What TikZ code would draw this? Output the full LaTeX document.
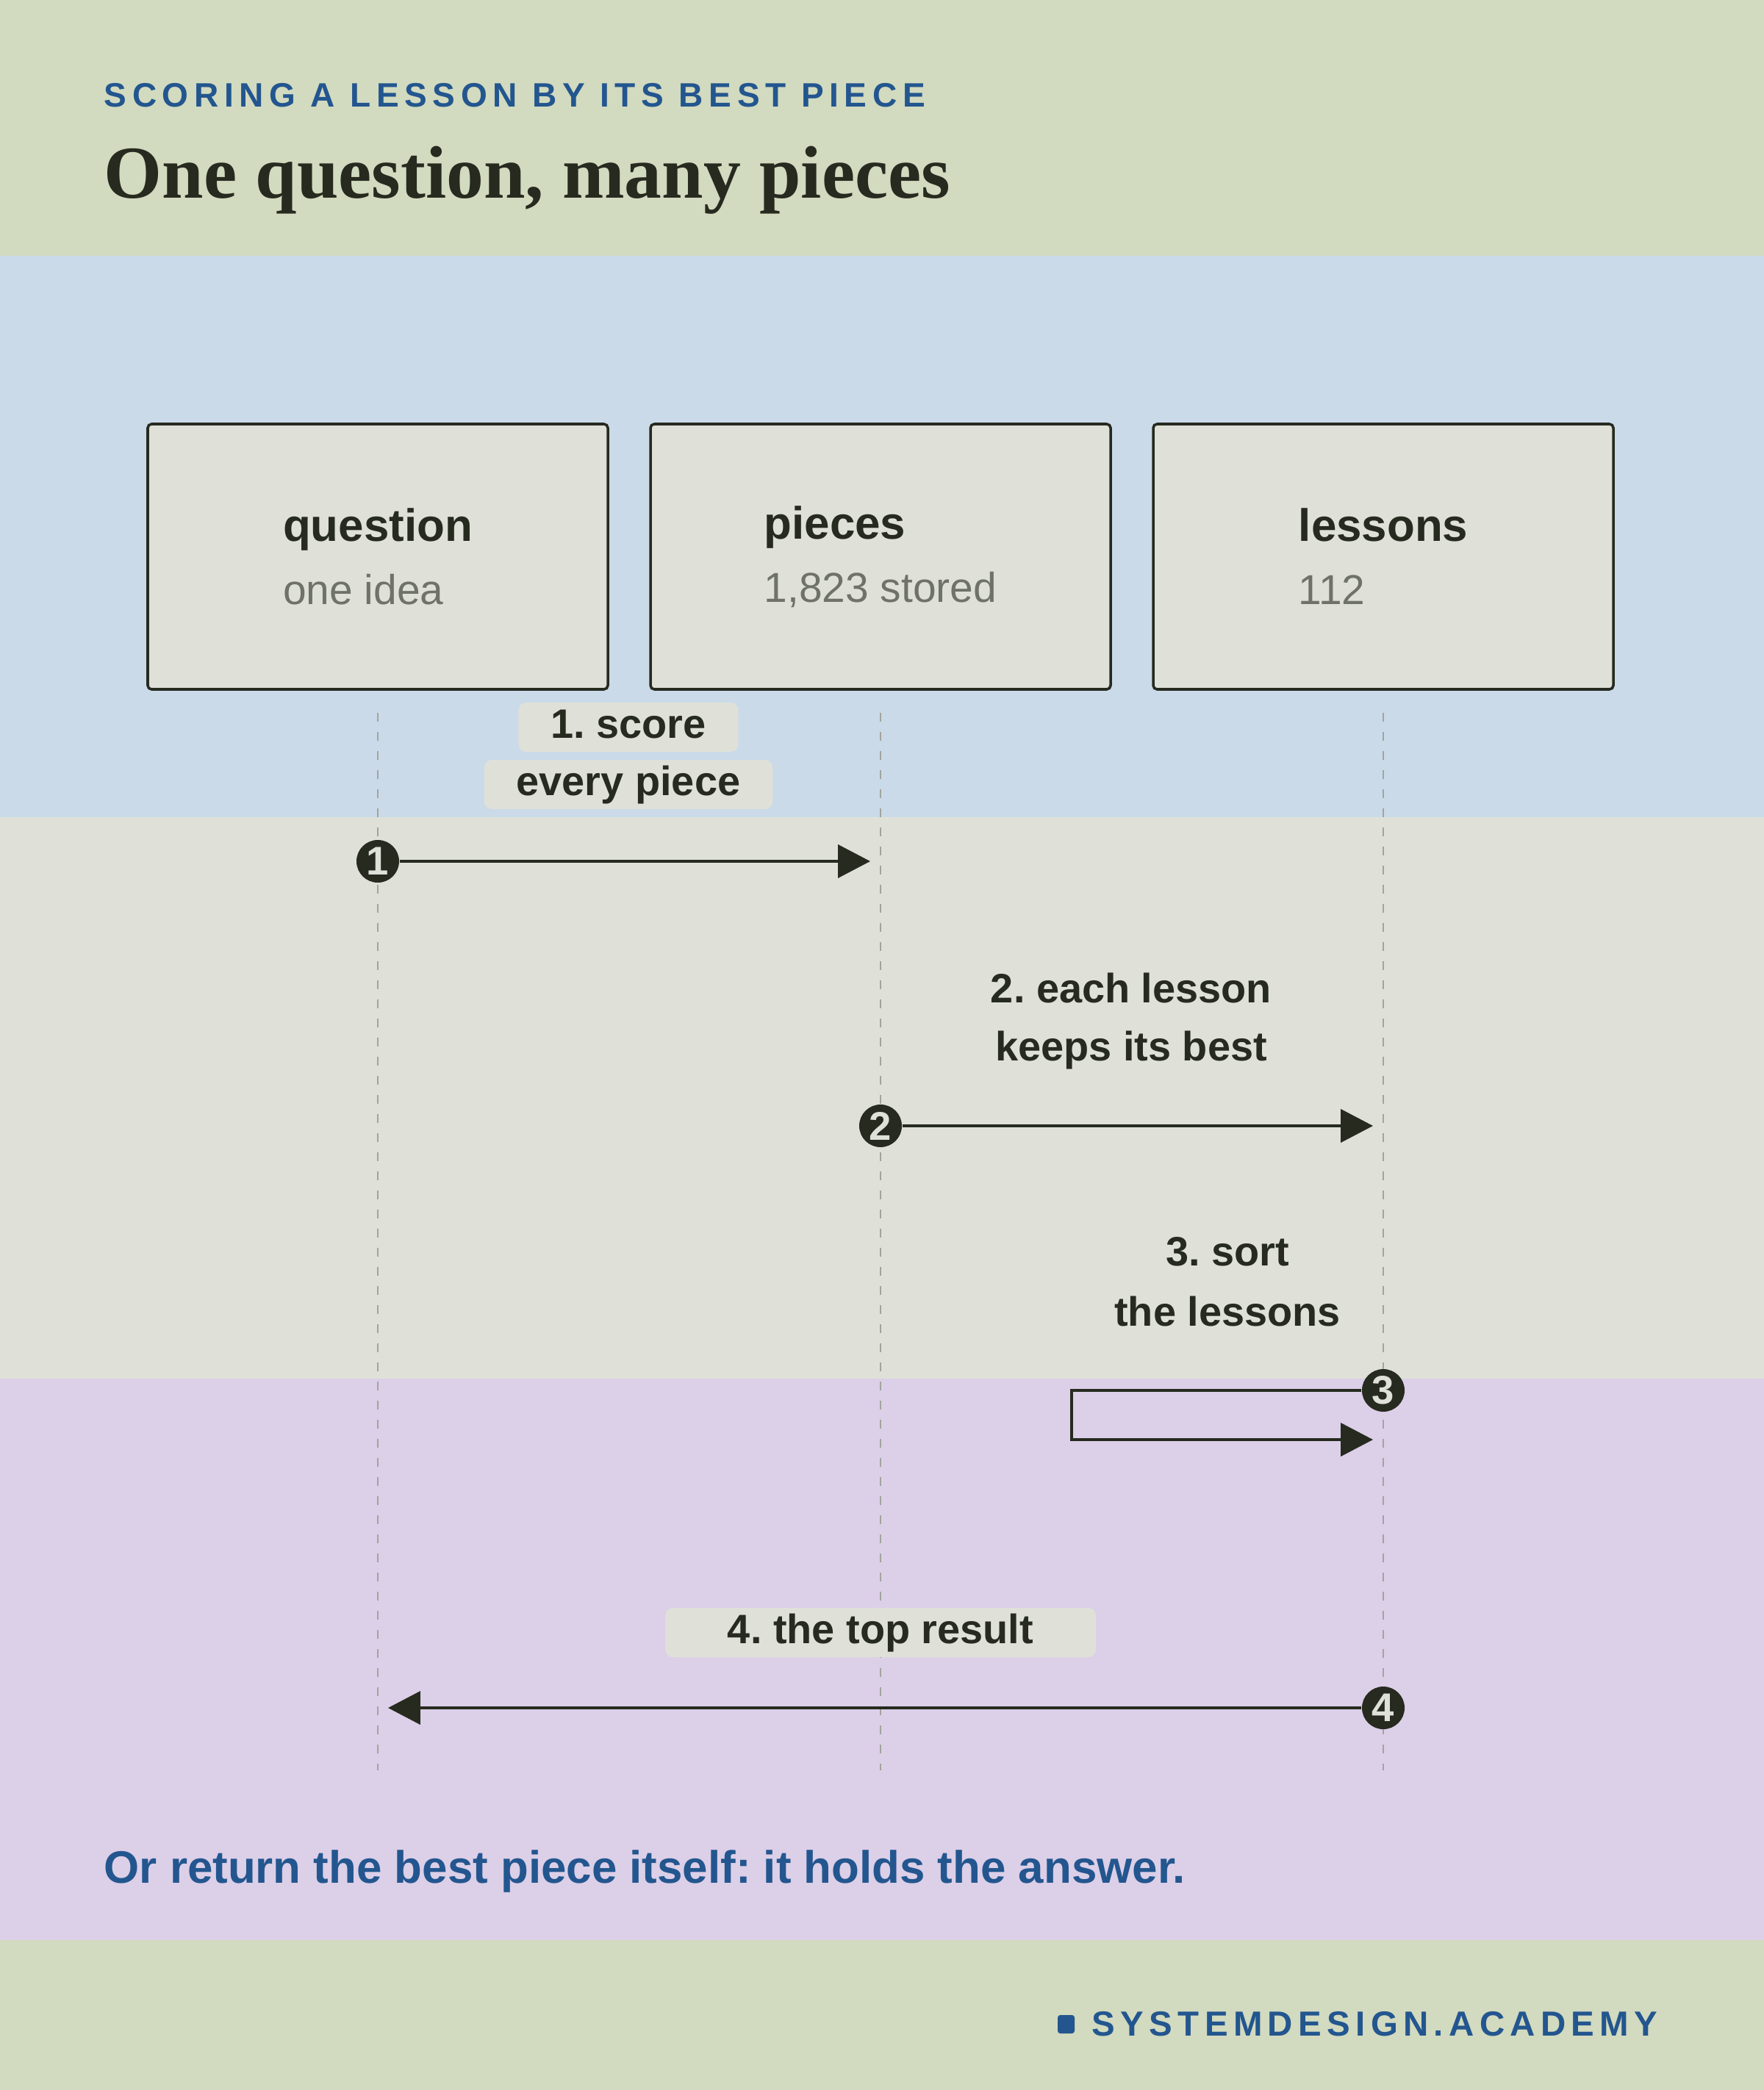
\documentclass[tikz,border=0pt]{standalone}
\usepackage{fontspec}
\usepackage{tikz}
\usetikzlibrary{arrows.meta}
\setmainfont{Liberation Sans}
\newfontfamily\titlefont{Liberation Serif}
\newfontfamily\kickerfont{Liberation Sans}[LetterSpace=16.6]
\newfontfamily\brandfont{Liberation Sans}[LetterSpace=15.5]
\definecolor{sage}{HTML}{D2DABF}
\definecolor{skyband}{HTML}{CADAE9}
\definecolor{mistband}{HTML}{DFE1D8}
\definecolor{lilacband}{HTML}{DCCFE8}
\definecolor{ink}{HTML}{262A1F}
\definecolor{brandblue}{HTML}{23568F}
\definecolor{muted}{HTML}{6F726A}
\definecolor{lifegray}{HTML}{A2A49E}
\frenchspacing

\begin{document}
\begin{tikzpicture}[node distance=6.84cm,
        box/.style={draw=ink, line width=1pt, fill=mistband, rounded corners=1.5pt,
            minimum width=6.26cm, minimum height=3.61cm, align=left, text=ink,
            font=\fontsize{17.6}{24.5}\selectfont},
        tag/.style={fill=mistband, rounded corners=3pt, text=ink,
            font=\bfseries\fontsize{15.9}{19}\selectfont,
            text height=0.36cm, text depth=0.07cm, inner xsep=0.44cm, inner ysep=0.12cm},
        stepdot/.style={circle, fill=ink, text=mistband, inner sep=0pt, minimum size=0.58cm,
            font=\bfseries\fontsize{15.5}{15.5}\selectfont},
        msg/.style={draw=ink, line width=1.1pt, -{Triangle[length=12.5pt,width=12.8pt]},
            shorten >=1.4mm},
        lifeline/.style={draw=lifegray, line width=0.8pt, dash pattern=on 3.4pt off 4pt},
        heading/.style={anchor=base west, inner sep=0pt}]
        \useasboundingbox (0,0) rectangle (24,-28.44);
        \fill[sage] (0,0) rectangle (24,-3.48);
        \fill[skyband] (0,-3.48) rectangle (24,-11.12);
        \fill[mistband] (0,-11.12) rectangle (24,-18.76);
        \fill[lilacband] (0,-18.76) rectangle (24,-26.40);
        \fill[sage] (0,-26.40) rectangle (24,-28.44);

        \node [heading, text=brandblue, font=\kickerfont\bfseries\fontsize{13.1}{16}\selectfont] (kicker) at (1.41,-1.46) {SCORING A LESSON BY ITS BEST PIECE};
        \node [heading, text=ink, font=\titlefont\bfseries\fontsize{28.9}{32}\selectfont] (title) at (1.41,-2.70) {One question, many pieces};

        \node [box] (question) at (5.14,-7.575) {{\bfseries question}\\{\color{muted}\fontsize{16.2}{24.5}\selectfont one idea}};
        \node [box, right of=question] (pieces) {{\bfseries pieces}\\{\color{muted}\fontsize{16.2}{24.5}\selectfont 1,823 stored}};
        \node [box, right of=pieces] (lessons) {{\bfseries lessons}\\{\color{muted}\fontsize{16.2}{24.5}\selectfont 112}};

        \coordinate (lifeend) at (0,-24.09);
        \draw [lifeline] ([yshift=-0.3cm]question.south) -- (question |- lifeend);
        \draw [lifeline] ([yshift=-0.3cm]pieces.south) -- (pieces |- lifeend);
        \draw [lifeline] ([yshift=-0.3cm]lessons.south) -- (lessons |- lifeend);

        \node [tag] (score-a) at (8.55,-9.895) {1. score};
        \node [tag, node distance=0.78cm, below of=score-a] (score-b) {every piece};
        \node [tag] (keep-a) at (15.39,-13.495) {2. each lesson};
        \node [tag, node distance=0.79cm, below of=keep-a] (keep-b) {keeps its best};
        \node [tag] (sort-a) at (16.70,-17.075) {3. sort};
        \node [tag, node distance=0.82cm, below of=sort-a] (sort-b) {the lessons};
        \node [tag, minimum width=5.86cm] (top) at (pieces |- 0,-22.215) {4. the top result};

        \node [stepdot] (s1) at (question |- 0,-11.72) {1};
        \node [stepdot] (s2) at (pieces |- 0,-15.32) {2};
        \node [stepdot] (s3) at (lessons |- 0,-18.92) {3};
        \node [stepdot] (s4) at (lessons |- 0,-23.24) {4};
        \coordinate (loop) at (14.58,-19.59);
        \draw [msg] (s1) -- (pieces |- s1);
        \draw [msg] (s2) -- (lessons |- s2);
        \draw [msg] (s3) -| (loop) -- (lessons |- loop);
        \draw [msg] (s4) -- (question |- s4);

        \node [heading, text=brandblue, font=\bfseries\fontsize{17.6}{20}\selectfont] (note) at (1.41,-25.62) {Or return the best piece itself: it holds the answer.};
        \fill[brandblue, rounded corners=1pt] (14.39,-27.42) rectangle (14.62,-27.67);
        \node [heading, text=brandblue, font=\brandfont\bfseries\fontsize{13.5}{16}\selectfont] (brand) at (14.85,-27.70) {SYSTEMDESIGN.ACADEMY};
    \end{tikzpicture}
\end{document}
